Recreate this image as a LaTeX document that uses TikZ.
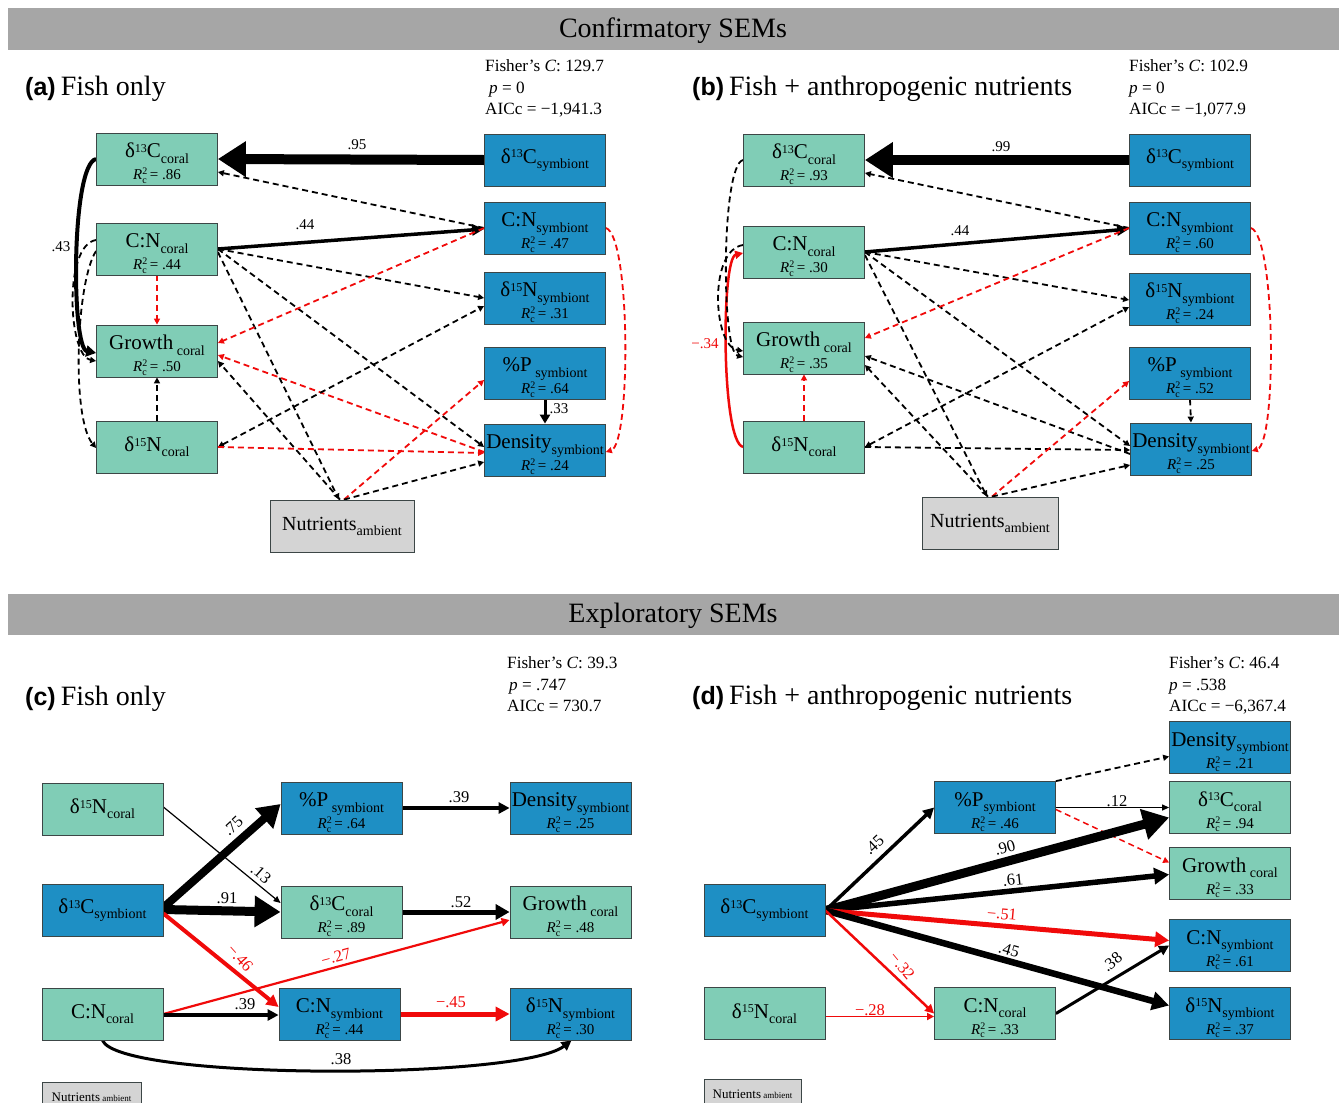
\documentclass[tikz,border=0pt]{standalone}
\usepackage{fontspec}
\setmainfont{Liberation Serif}
\newfontfamily\lsans{Liberation Sans}
\usetikzlibrary{arrows.meta}
\definecolor{cgreen}{RGB}{128,205,182}
\definecolor{cblue}{RGB}{30,143,196}
\definecolor{cedge}{RGB}{60,70,70}
\definecolor{cred}{RGB}{240,10,10}
\definecolor{cnut}{RGB}{212,212,212}
\definecolor{cband}{RGB}{166,166,166}
\newcommand\fsz[1]{\fontsize{#1}{#1}\selectfont}
\newcommand\spx[1]{\raisebox{0.55ex}{\fsz{12}#1}}
\newcommand\sbx[1]{\raisebox{-0.55ex}{\fsz{14}#1}}
\newcommand\blab[2]{#1\sbx{#2}}
\newcommand\rcv[1]{{\fsz{15}\textit{R}\makebox[0pt][l]{\raisebox{0.75ex}{\fsz{10}2}}\raisebox{-0.5ex}{\fsz{10}c}\hspace{3pt}= #1}}
\newcommand\twol[2]{\rule{0pt}{23pt}#1\\[1pt]\rcv{#2}}
\pgfdeclarelayer{bg}
\pgfsetlayers{bg,main}
\tikzset{
  nodebox/.style={draw=cedge, line width=0.8pt, minimum width=121pt, minimum height=52pt, inner sep=0pt, align=center, font=\fsz{21}},
  gbox/.style={nodebox, fill=cgreen},
  bbox/.style={nodebox, fill=cblue},
  nbox/.style={nodebox, fill=cnut, minimum width=144pt, font=\fsz{20}},
  sbox/.style={draw=cedge, line width=0.8pt, fill=cnut, minimum width=99pt, minimum height=30pt, inner sep=0pt, font=\fsz{13}},
  dsh/.style={draw=black, line width=1.8pt, dash pattern=on 6pt off 4pt},
  rdsh/.style={dsh, draw=cred},
  sarr/.style={-{Triangle[length=6pt,width=6pt]}},
  sarr2/.style={{Triangle[length=6pt,width=6pt]}-{Triangle[length=6pt,width=6pt]}},
  barr/.style 2 args={-{Triangle[length=#1pt,width=#2pt]}},
  elab/.style={font=\fsz{15}, inner sep=0pt},
  elabc/.style={font=\fsz{16.5}, inner sep=0pt},
  stat/.style={font=\fsz{17.2}, anchor=base west, inner sep=0pt},
  ttl/.style={anchor=base west, inner sep=0pt}
}
\begin{document}
\begin{tikzpicture}[x=1pt,y=-1pt]
\useasboundingbox (0,0) rectangle (1339,1103);
% header bands
\fill[cband] (8,8) rectangle (1339,50);
\node[font=\fsz{28}] (h1) at (673,31) {Confirmatory SEMs};
\fill[cband] (8,594) rectangle (1339,635);
\node[font=\fsz{28}] (h2) at (673,616) {Exploratory SEMs};
% titles
\node[ttl] (ta) at (25,95) {{\lsans\bfseries\fsz{25}(a)}\hspace{5pt}{\fsz{28}Fish only}};
\node[ttl] (tb) at (692,95) {{\lsans\bfseries\fsz{25}(b)}\hspace{5pt}{\fsz{28}Fish + anthropogenic nutrients}};
\node[ttl] (tc) at (25,705) {{\lsans\bfseries\fsz{25}(c)}\hspace{5pt}{\fsz{28}Fish only}};
\node[ttl] (td) at (692,704) {{\lsans\bfseries\fsz{25}(d)}\hspace{5pt}{\fsz{28}Fish + anthropogenic nutrients}};
% stats
\node[stat] (sa1) at (485,71) {Fisher’s \textit{C}: 129.7};
\node[stat] (sa2) at (489,93) {\textit{p} = 0};
\node[stat] (sa3) at (485,114) {AICc = −1,941.3};
\node[stat] (sb1) at (1129,71) {Fisher’s \textit{C}: 102.9};
\node[stat] (sb2) at (1129,93) {\textit{p} = 0};
\node[stat] (sb3) at (1129,114) {AICc = −1,077.9};
\node[stat] (sc1) at (507,668) {Fisher’s \textit{C}: 39.3};
\node[stat] (sc2) at (509,690) {\textit{p} = .747};
\node[stat] (sc3) at (507,711) {AICc = 730.7};
\node[stat] (sd1) at (1169,668) {Fisher’s \textit{C}: 46.4};
\node[stat] (sd2) at (1169,690) {\textit{p} = .538};
\node[stat] (sd3) at (1169,711) {AICc = −6,367.4};

% ---------------- panel (a) nodes
\node[gbox] (ac13) at (157,159) {\twol{\blab{δ\spx{13}C}{coral}}{.86}};
\node[gbox] (acn) at (157,249) {\twol{\blab{C:N}{coral}}{.44}};
\node[gbox] (agr) at (157,351) {\twol{\blab{Growth\,}{coral}}{.50}};
\node[gbox] (an15) at (157,447) {\blab{δ\spx{15}N}{coral}};
\node[bbox] (as13) at (545,160) {\blab{δ\spx{13}C}{symbiont}};
\node[bbox] (ascn) at (545,228) {\twol{\blab{C:N}{symbiont}}{.47}};
\node[bbox] (asn15) at (545,298) {\twol{\blab{δ\spx{15}N}{symbiont}}{.31}};
\node[bbox] (asp) at (545,373) {\twol{\blab{\%P\,}{symbiont}}{.64}};
\node[bbox] (asd) at (545,450) {\twol{\blab{Density}{symbiont}}{.24}};
\node[nbox] (anut) at (342,526) {\blab{Nutrients}{ambient}};

% ---------------- panel (b) nodes
\node[gbox] (bc13) at (804,160) {\twol{\blab{δ\spx{13}C}{coral}}{.93}};
\node[gbox] (bcn) at (804,252) {\twol{\blab{C:N}{coral}}{.30}};
\node[gbox] (bgr) at (804,348) {\twol{\blab{Growth\,}{coral}}{.35}};
\node[gbox] (bn15) at (804,447) {\blab{δ\spx{15}N}{coral}};
\node[bbox] (bs13) at (1190,160) {\blab{δ\spx{13}C}{symbiont}};
\node[bbox] (bscn) at (1190,228) {\twol{\blab{C:N}{symbiont}}{.60}};
\node[bbox] (bsn15) at (1190,299) {\twol{\blab{δ\spx{15}N}{symbiont}}{.24}};
\node[bbox] (bsp) at (1190,373) {\twol{\blab{\%P\,}{symbiont}}{.52}};
\node[bbox] (bsd) at (1191,449) {\twol{\blab{Density}{symbiont}}{.25}};
\node[nbox, minimum width=136pt] (bnut) at (990,523) {\blab{Nutrients}{ambient}};

% ---------------- panel (c) nodes
\node[gbox] (cn15) at (102.5,809) {\blab{δ\spx{15}N}{coral}};
\node[bbox] (csp) at (341.5,808) {\twol{\blab{\%P\,}{symbiont}}{.64}};
\node[bbox] (csd) at (570.5,808) {\twol{\blab{Density}{symbiont}}{.25}};
\node[bbox] (cs13) at (102.5,910.5) {\blab{δ\spx{13}C}{symbiont}};
\node[gbox] (cc13) at (341.5,912) {\twol{\blab{δ\spx{13}C}{coral}}{.89}};
\node[gbox] (cgr) at (570.5,912) {\twol{\blab{Growth\,}{coral}}{.48}};
\node[gbox] (ccn) at (102.5,1014) {\blab{C:N}{coral}};
\node[bbox] (cscn) at (339.5,1014) {\twol{\blab{C:N}{symbiont}}{.44}};
\node[bbox] (csn15) at (570.5,1014) {\twol{\blab{δ\spx{15}N}{symbiont}}{.30}};
\node[sbox] (cnut) at (91.5,1097) {Nutrients\,{\fsz{9}ambient}};

% ---------------- panel (d) nodes
\node[bbox] (dsd) at (1230,747.5) {\twol{\blab{Density}{symbiont}}{.21}};
\node[bbox] (dsp) at (995,807.5) {\twol{\blab{\%P}{symbiont}}{.46}};
\node[gbox] (dc13) at (1230,807.5) {\twol{\blab{δ\spx{13}C}{coral}}{.94}};
\node[gbox] (dgr) at (1230,873.5) {\twol{\blab{Growth\,}{coral}}{.33}};
\node[bbox] (ds13) at (764.5,910.5) {\blab{δ\spx{13}C}{symbiont}};
\node[bbox] (dscn) at (1230,945.5) {\twol{\blab{C:N}{symbiont}}{.61}};
\node[gbox] (dn15) at (764.5,1013.5) {\blab{δ\spx{15}N}{coral}};
\node[gbox] (dcn) at (995,1013.5) {\twol{\blab{C:N}{coral}}{.33}};
\node[bbox] (dsn15) at (1230,1013.5) {\twol{\blab{δ\spx{15}N}{symbiont}}{.37}};
\node[sbox, minimum width=97pt] (dnut) at (752.5,1094) {Nutrients\,{\fsz{9}ambient}};

\begin{pgfonlayer}{bg}
% ---------------- panel (a) edges
\draw[line width=10pt, barr={28}{34}] (as13.west) -- (ac13.east);
\draw[dsh, sarr] (ascn.west) -- ([yshift=-13pt]ac13.east);
\draw[line width=3.5pt, barr={12}{11}] (acn.east) -- ([yshift=-1pt]ascn.west);
\draw[dsh, sarr] (acn.east) -- (asn15.west);
\draw[dsh, sarr] (acn.east) -- ([yshift=3pt]asd.west);
\draw[dsh, sarr] ([yshift=-3pt]acn.east) -- ([xshift=-3pt]anut.north);
\draw[rdsh, sarr] (ascn.west) -- ([yshift=8pt]agr.east);
\draw[rdsh, sarr] ([yshift=-2pt]asd.west) -- ([yshift=-4pt]agr.east);
\draw[dsh, sarr] ([xshift=-2pt]anut.north) -- ([yshift=-10pt]agr.east);
\draw[dsh, sarr2] (an15.east) -- ([yshift=-8pt]asn15.west);
\draw[rdsh, sarr] (an15.east) -- ([yshift=-3pt]asd.west);
\draw[dsh, sarr] (an15.north) -- (agr.south);
\draw[rdsh, sarr] (acn.south) -- (agr.north);
\draw[line width=3pt, barr={9}{10}] (asp.south) -- (asd.north);
\draw[rdsh, sarr] ([xshift=2pt]anut.north) -- ([yshift=-7pt]asp.west);
\draw[dsh, sarr] ([xshift=2pt]anut.north) -- ([yshift=-12pt]asd.west);
\draw[rdsh, sarr] (ascn.east) .. controls +(25,8) and +(25,-8) .. ([yshift=-2pt]asd.east);
\draw[line width=4pt, barr={10}{11}] (ac13.west) .. controls +(-25,5) and +(-25,-5) .. ([yshift=-2pt]agr.west);
\draw[dsh, sarr] ([yshift=9pt]acn.west) .. controls +(-33,5) and +(-28,-5) .. ([yshift=-10pt]agr.west);
\draw[dsh, sarr] ([yshift=-2pt]acn.west) .. controls +(-20,30) and +(-25,-30) .. ([yshift=-1pt]an15.west);

% ---------------- panel (b) edges
\draw[line width=10pt, barr={28}{34}] (bs13.west) -- (bc13.east);
\draw[dsh, sarr] (bscn.west) -- ([yshift=-13pt]bc13.east);
\draw[line width=3.5pt, barr={12}{11}] (bcn.east) -- ([yshift=-1pt]bscn.west);
\draw[dsh, sarr] (bcn.east) -- ([yshift=-1pt]bsn15.west);
\draw[dsh, sarr] (bcn.east) -- ([yshift=3pt]bsd.west);
\draw[dsh, sarr] ([yshift=-3pt]bcn.east) -- ([xshift=-3pt]bnut.north);
\draw[rdsh, sarr] (bscn.west) -- ([yshift=10pt]bgr.east);
\draw[dsh, sarr] ([yshift=-5pt]bsd.west) -- ([yshift=-8pt]bgr.east);
\draw[dsh, sarr] ([xshift=-2pt]bnut.north) -- ([yshift=-17pt]bgr.east);
\draw[dsh, sarr2] (bn15.east) -- ([yshift=-8pt]bsn15.west);
\draw[dsh, sarr] (bn15.east) -- ([yshift=-1pt]bsd.west);
\draw[rdsh, sarr] (bn15.north) -- (bgr.south);
\draw[dsh, sarr] (bsp.south) -- (bsd.north);
\draw[rdsh, sarr] ([xshift=2pt]bnut.north) -- ([yshift=-8pt]bsp.west);
\draw[dsh, sarr] ([xshift=2pt]bnut.north) -- ([yshift=-16pt]bsd.west);
\draw[rdsh, sarr] (bscn.east) .. controls +(25,8) and +(25,-8) .. ([yshift=-2pt]bsd.east);
\draw[cred, line width=2.5pt, barr={8}{8}] (bn15.west) .. controls +(-22,-5) and +(-22,5) .. ([yshift=-1pt]bcn.west);
\draw[dsh, sarr] (bc13.west) .. controls +(-22,5) and +(-22,-5) .. ([yshift=-9pt]bgr.west);
\draw[dsh, sarr] ([yshift=7pt]bcn.west) .. controls +(-35,5) and +(-30,-5) .. ([yshift=-3pt]bgr.west);

% ---------------- panel (c) edges
\draw[line width=8pt, barr={22}{26}] ([yshift=3pt]cs13.east) -- ([yshift=4pt]csp.west);
\draw[line width=3.5pt, barr={11}{11}] (csp.east) -- (csd.west);
\draw[line width=1.2pt, barr={7}{6}] ([yshift=2pt]cn15.east) -- ([yshift=9pt]cc13.west);
\draw[line width=9pt, barr={26}{30}] ([yshift=1pt]cs13.east) -- (cc13.west);
\draw[line width=5pt, barr={14}{15}] (cc13.east) -- (cgr.west);
\draw[cred, line width=4pt, barr={12}{12}] ([yshift=-3pt]cs13.east) -- ([yshift=7pt]cscn.west);
\draw[cred, line width=2.2pt, barr={8}{8}] (ccn.east) -- ([yshift=-8pt]cgr.west);
\draw[line width=3.5pt, barr={11}{11}] ([yshift=-1pt]ccn.east) -- ([yshift=-1pt]cscn.west);
\draw[cred, line width=5pt, barr={14}{14}] (cscn.east) -- (csn15.west);
\draw[line width=3pt, barr={10}{10}] (ccn.south) .. controls +(17,40) and +(-52,40) .. ([xshift=1pt]csn15.south);

% ---------------- panel (d) edges
\draw[line width=3.5pt, barr={11}{11}] (ds13.east) -- (dsp.west);
\draw[dsh, sarr] (dsp.north east) -- ([yshift=-9pt]dsd.west);
\draw[line width=1.2pt, barr={7}{6}] (dsp.east) -- (dc13.west);
\draw[rdsh, line width=1.5pt, sarr] ([yshift=-2pt]dsp.east) -- ([yshift=11pt]dgr.west);
\draw[line width=9pt, barr={26}{30}] (ds13.east) -- ([yshift=-10pt]dc13.west);
\draw[line width=5.5pt, barr={15}{16}] (ds13.east) -- ([yshift=-1pt]dgr.west);
\draw[cred, line width=5pt, barr={14}{15}] (ds13.east) -- ([yshift=5pt]dscn.west);
\draw[line width=6.5pt, barr={17}{18}] (ds13.east) -- ([yshift=8pt]dsn15.west);
\draw[cred, line width=2.5pt, barr={9}{9}] (ds13.east) -- (dcn.west);
\draw[cred, line width=1.8pt, barr={7}{7}] ([yshift=-3pt]dn15.east) -- ([yshift=-3pt]dcn.west);
\draw[line width=3pt, barr={10}{10}] (dcn.east) -- (dscn.west);
\end{pgfonlayer}

% ---------------- edge labels
\node[elab] (la1) at (357,145) {.95};
\node[elab] (la2) at (305,225) {.44};
\node[elab] (la3) at (61,247) {.43};
\node[elab] (la4) at (559,409) {.33};
\node[elab] (lb1) at (1001,147) {.99};
\node[elab] (lb2) at (960,231) {.44};
\node[elab, text=cred] (lb3) at (705,344) {−.34};
\node[elabc, rotate=43] (lc1) at (233,826) {.75};
\node[elabc] (lc2) at (459,797) {.39};
\node[elabc, rotate=-41] (lc3) at (261,874) {.13};
\node[elabc] (lc4) at (227,898) {.91};
\node[elabc] (lc5) at (461,902) {.52};
\node[elabc, rotate=-48, text=cred] (lc6) at (240,958) {−.46};
\node[elabc, rotate=15, text=cred] (lc7) at (336,957) {−.27};
\node[elabc] (lc8) at (245,1004) {.39};
\node[elabc, text=cred] (lc9) at (451,1002) {−.45};
\node[elabc] (lc10) at (341,1059) {.38};
\node[elabc, rotate=43] (ld1) at (874,845) {.45};
\node[elabc] (ld2) at (1117,801) {.12};
\node[elabc, rotate=15] (ld3) at (1005,848) {.90};
\node[elabc, rotate=6] (ld4) at (1013,880) {.61};
\node[elabc, rotate=-5, text=cred] (ld5) at (1002,914) {−.51};
\node[elabc, rotate=-16] (ld6) at (1009,950) {.45};
\node[elabc, rotate=-50, text=cred] (ld7) at (902,966) {−.32};
\node[elabc, text=cred] (ld8) at (870,1010) {−.28};
\node[elabc, rotate=40] (ld9) at (1112,962) {.38};
\end{tikzpicture}
\end{document}
